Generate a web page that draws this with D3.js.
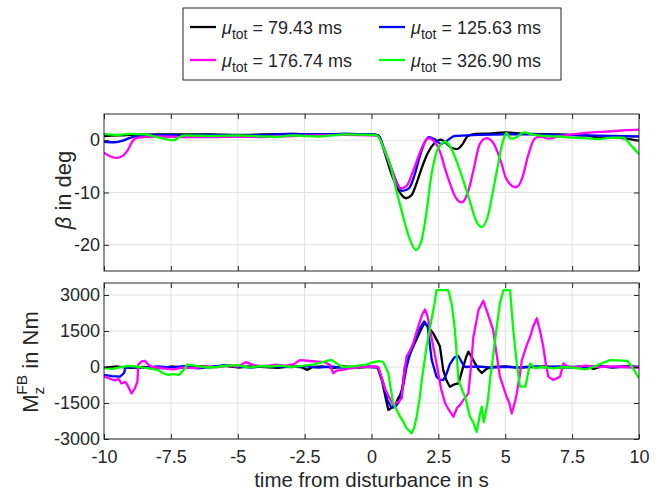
<!DOCTYPE html>
<html><head><meta charset="utf-8">
<script src="https://cdn.jsdelivr.net/npm/d3@7"></script>
<style>
body{margin:0;background:#fff}
svg{display:block}
text{font-family:"Liberation Sans",Arial,Helvetica,sans-serif;fill:#262626}
</style>
</head><body>
<svg id="c" width="662" height="497"></svg>
<script>
// ---------- data ----------
const seriesNames = ["79.43", "125.63", "176.74", "326.90"];
const seriesColors = ["#000000", "#0000ff", "#ff00ff", "#00ff00"];
const xTicks = [-10, -7.5, -5, -2.5, 0, 2.5, 5, 7.5, 10];
const xTickLabels = ["-10", "-7.5", "-5", "-2.5", "0", "2.5", "5", "7.5", "10"];
const betaTicks = [0, -10, -20];
const mTicks = [3000, 1500, 0, -1500, -3000];

// beta in deg: [time s, value]
const betaBlack = [[-10,0.8],[-9.5,0.9],[-9,1.0],[-8,1.1],[-7,1.1],[-6,1.1],[-5,1.0],[-4,1.1],[-3,1.2],[-2,1.1],[-1,1.2],[0,1.1],[0.25,0.9],[0.5,-2.5],[0.75,-6.5],[1.0,-9.5],[1.3,-11.1],[1.5,-10.5],[1.7,-8],[1.9,-5],[2.1,-2.5],[2.35,-0.6],[2.6,0.1],[2.8,-0.6],[3.0,-1.5],[3.2,-1.7],[3.4,-0.8],[3.6,0.8],[3.9,1.2],[4.5,1.3],[5,1.5],[5.5,1.3],[6,1.2],[7,1.1],[8,0.9],[8.5,0.5],[9,0.6],[9.5,0.3],[10,-0.1]];
const betaBlue = [[-10,-0.3],[-9.6,-0.4],[-9.3,-0.1],[-9,0.5],[-8.7,0.8],[-8,1.0],[-7,0.9],[-6,1.0],[-5,0.9],[-4,1.0],[-3,1.2],[-2,1.1],[-1,1.2],[0,1.1],[0.25,0.9],[0.5,-2],[0.75,-5.5],[1.0,-8.7],[1.15,-9.7],[1.4,-9.2],[1.6,-6.8],[1.8,-3.2],[2.0,-0.3],[2.15,0.6],[2.35,0.2],[2.6,-0.7],[2.8,-0.2],[3.1,0.8],[4,1.0],[5,1.1],[6,1.1],[7,1.0],[8,0.9],[9,0.8],[10,0.7]];
const betaMagenta = [[-10,-2.4],[-9.8,-3.0],[-9.55,-3.4],[-9.3,-3.0],[-9.1,-1.8],[-8.95,-0.3],[-8.8,0.4],[-8.5,0.6],[-8,0.7],[-7,0.6],[-6,0.6],[-5,0.7],[-4,0.6],[-3,0.8],[-2,0.9],[-1,1.0],[0,0.9],[0.25,0.7],[0.5,-2.3],[0.75,-5.5],[1.07,-9.2],[1.3,-8.8],[1.55,-6],[1.8,-2.5],[2.0,-0.3],[2.12,0.4],[2.3,0],[2.56,-2.2],[2.75,-5.5],[2.95,-8.5],[3.15,-11],[3.37,-11.9],[3.6,-10],[3.8,-6],[4.05,-0.7],[4.3,0.4],[4.55,-0.5],[4.8,-3.5],[5.05,-7.5],[5.4,-9],[5.65,-7],[5.85,-3],[6.1,0.3],[6.3,0.7],[6.6,0.3],[7,0.7],[7.5,1.1],[8,1.4],[8.5,1.6],[9,1.7],[9.5,1.9],[10,2.0]];
const betaGreen = [[-10,1.2],[-9.5,1.0],[-9,1.2],[-8.5,1.1],[-8,0.6],[-7.6,0.1],[-7.4,0.0],[-7.2,0.5],[-7,0.9],[-6,0.8],[-5,0.9],[-4,0.7],[-3.5,0.6],[-3,0.9],[-2.5,0.8],[-2,0.7],[-1.5,0.9],[-1,1.1],[0,1.0],[0.2,0.9],[0.45,-1.5],[0.7,-4.7],[0.9,-9],[1.13,-13.6],[1.4,-18.5],[1.66,-21],[1.85,-19.5],[2.06,-13.6],[2.2,-8],[2.31,-4.7],[2.45,-2],[2.6,-0.8],[2.75,-0.3],[2.95,-1.3],[3.18,-4],[3.45,-8],[3.68,-11.7],[3.9,-15.3],[4.12,-16.6],[4.35,-14.5],[4.55,-9.5],[4.7,-5.5],[4.85,-1.5],[4.95,0.4],[5.05,1.4],[5.2,0.3],[5.4,0.5],[5.7,1.5],[6,1.1],[6.5,0.8],[7,0.7],[7.5,0.5],[8,0.4],[8.5,0.2],[9,0.5],[9.4,0.5],[9.7,-1.0],[10,-2.7]];

// M_z^FB in Nm: [time s, value]
const mBlack = [[-10,-30],[-9.5,20],[-9,-40],[-8.5,0],[-8,-60],[-7.5,20],[-7,-30],[-6.5,40],[-6,0],[-5.5,50],[-5,-20],[-4.5,30],[-4,0],[-3.5,-40],[-3,30],[-2.6,-20],[-2.4,-120],[-2.2,0],[-1.8,20],[-1.4,-40],[-1,30],[-0.5,-20],[0,10],[0.22,0],[0.4,-600],[0.55,-1400],[0.63,-1790],[0.75,-1700],[0.9,-1550],[1.0,-1300],[1.07,-1170],[1.15,-900],[1.25,10],[1.35,300],[1.56,850],[1.7,1200],[1.85,1550],[1.97,1820],[2.1,1700],[2.31,1400],[2.45,1100],[2.56,850],[2.68,-120],[2.8,-550],[2.93,-820],[3.1,-720],[3.25,-680],[3.4,-100],[3.55,450],[3.62,640],[3.75,400],[3.87,150],[4.0,-100],[4.12,-250],[4.3,-80],[4.5,0],[5,20],[5.5,-30],[6,0],[6.5,30],[7,-20],[7.5,0],[8,30],[8.3,-80],[8.6,20],[9,-10],[9.5,20],[10,0]];
const mBlue = [[-10,-330],[-9.7,-380],[-9.4,-400],[-9.25,-250],[-9.2,-20],[-9,0],[-8.5,-40],[-8,30],[-7.5,-20],[-7,40],[-6.5,-60],[-6,0],[-5.5,80],[-5,30],[-4.5,-30],[-4,50],[-3.5,20],[-3,0],[-2.5,40],[-2,-30],[-1.5,20],[-1,-40],[-0.5,30],[0,0],[0.25,-20],[0.45,-700],[0.6,-1400],[0.75,-1700],[0.9,-1650],[1.05,-1400],[1.2,-700],[1.3,-50],[1.45,600],[1.6,1050],[1.8,1600],[1.97,1900],[2.1,1700],[2.25,300],[2.43,-400],[2.55,-530],[2.68,-540],[2.8,-300],[2.93,120],[3.1,400],[3.25,460],[3.4,150],[3.5,0],[4,20],[4.5,-30],[5,10],[5.5,-20],[6,30],[6.5,-10],[7,20],[7.5,-20],[8,0],[8.5,40],[9,-10],[9.5,10],[10,0]];
const mMagenta = [[-10,-400],[-9.8,-480],[-9.6,-560],[-9.45,-500],[-9.35,-680],[-9.2,-620],[-9.1,-800],[-8.97,-1100],[-8.85,-900],[-8.75,-600],[-8.72,100],[-8.6,230],[-8.47,260],[-8.35,100],[-8.2,0],[-7.8,-60],[-7.4,-100],[-7,-20],[-6.6,-50],[-6.2,30],[-5.8,-20],[-5.4,60],[-5,20],[-4.7,200],[-4.4,80],[-4,30],[-3.6,100],[-3.2,60],[-2.9,120],[-2.67,290],[-2.3,250],[-2.0,220],[-1.75,200],[-1.55,80],[-1.43,-260],[-1.3,-150],[-1.1,-120],[-0.8,-60],[-0.5,0],[0,20],[0.25,0],[0.5,-900],[0.81,-1580],[1.0,-1450],[1.13,-1300],[1.22,-300],[1.31,430],[1.45,700],[1.56,990],[1.75,1700],[1.9,2200],[2.0,2400],[2.1,2100],[2.19,1540],[2.3,900],[2.43,150],[2.6,-900],[2.75,-1510],[2.9,-1800],[3.06,-2070],[3.2,-1700],[3.31,-1580],[3.45,-1350],[3.62,-1100],[3.7,-200],[3.81,1260],[4.0,2370],[4.18,2760],[4.35,2200],[4.55,1540],[4.68,500],[4.8,-400],[5.05,-1240],[5.15,-1500],[5.24,-1930],[5.35,-1500],[5.43,-1100],[5.55,-300],[5.62,290],[5.8,900],[5.93,1260],[6.05,1700],[6.18,2030],[6.3,1500],[6.42,850],[6.52,100],[6.61,-400],[6.8,-540],[7.05,-400],[7.17,150],[7.3,40],[7.6,-20],[8,60],[8.5,0],[9,30],[9.5,0],[10,-20]];
const mGreen = [[-10,-50],[-9.7,-80],[-9.4,-20],[-9.1,50],[-8.8,20],[-8.4,-50],[-8,-120],[-7.8,-250],[-7.6,-330],[-7.4,-300],[-7.2,-330],[-7.0,-100],[-6.9,100],[-6.6,60],[-6.2,-20],[-5.8,0],[-5.4,60],[-5.0,80],[-4.6,-30],[-4.2,40],[-3.8,20],[-3.4,60],[-3.0,0],[-2.6,50],[-2.2,100],[-1.9,180],[-1.6,280],[-1.49,290],[-1.3,150],[-1.1,0],[-0.8,20],[-0.5,60],[-0.2,100],[0.07,200],[0.3,240],[0.44,200],[0.55,-50],[0.63,-260],[0.72,-900],[0.81,-1510],[0.95,-1800],[1.07,-2070],[1.2,-2300],[1.31,-2550],[1.5,-2760],[1.6,-2500],[1.69,-2070],[1.8,-1300],[1.88,-540],[2.06,850],[2.25,2030],[2.35,2600],[2.43,3200],[2.87,3200],[3.0,2600],[3.12,1540],[3.25,-540],[3.4,-1000],[3.5,-1240],[3.6,-1700],[3.68,-2070],[3.8,-2300],[3.93,-2700],[4.05,-2000],[4.12,-1650],[4.2,-2300],[4.24,-2070],[4.35,-1400],[4.43,-540],[4.55,500],[4.62,1130],[4.8,2650],[4.93,3200],[5.18,3200],[5.3,1540],[5.43,150],[5.55,-820],[5.75,-820],[5.93,150],[6.1,-50],[6.4,0],[6.8,-60],[7.2,0],[7.6,-40],[8.0,-100],[8.3,0],[8.6,150],[8.92,290],[9.2,280],[9.57,250],[9.8,-100],[10,-470]];

const betaSeries = [betaBlack, betaBlue, betaMagenta, betaGreen];
const mSeries = [mBlack, mBlue, mMagenta, mGreen];

// ---------- drawing ----------
const svg = d3.select("#c");
const L = 104, R = 639;
const x = d3.scaleLinear([-10, 10], [L, R]);
const yB = d3.scaleLinear([-25, 5], [271, 114]);
const yM = d3.scaleLinear([-3000, 3500], [439, 283]);
const axisColor = "#262626";
const tickFont = 18, labelFont = 20.5, yLabelFont = 22;

function panel(id, y, yTicks, series, showXLabels, curve) {
  const [y0, y1] = y.range(); // bottom, top
  const g = svg.append("g");
  g.append("clipPath").attr("id", id).append("rect")
    .attr("x", L).attr("y", y1).attr("width", R - L).attr("height", y0 - y1);
  // grid
  g.append("g").selectAll("line").data(xTicks.slice(1, -1)).join("line")
    .attr("x1", d => x(d)).attr("x2", d => x(d)).attr("y1", y1).attr("y2", y0)
    .attr("stroke", "#e0e0e0").attr("stroke-width", 1);
  g.append("g").selectAll("line").data(yTicks).join("line")
    .attr("x1", L).attr("x2", R).attr("y1", d => y(d)).attr("y2", d => y(d))
    .attr("stroke", "#e0e0e0").attr("stroke-width", 1);
  // lines
  const line = d3.line().x(d => x(d[0])).y(d => y(d[1])).curve(curve);
  g.append("g").attr("clip-path", `url(#${id})`).selectAll("path").data(series).join("path")
    .attr("d", line).attr("fill", "none")
    .attr("stroke", (d, i) => seriesColors[i]).attr("stroke-width", 2.3)
    .attr("stroke-linejoin", "round");
  // axes
  const ax = d3.axisBottom(x).tickValues(xTicks).tickSize(-5).tickPadding(11.5)
    .tickFormat((d, i) => showXLabels ? xTickLabels[i] : "");
  const gx = g.append("g").attr("transform", `translate(0,${y0})`).call(ax);
  const gxt = g.append("g").attr("transform", `translate(0,${y1})`)
    .call(d3.axisTop(x).tickValues(xTicks).tickSize(-5).tickFormat(""));
  const gy = g.append("g").attr("transform", `translate(${L},0)`)
    .call(d3.axisLeft(y).tickValues(yTicks).tickSize(-5).tickPadding(4).tickFormat(d => String(d)));
  const gyr = g.append("g").attr("transform", `translate(${R},0)`)
    .call(d3.axisRight(y).tickValues(yTicks).tickSize(-5).tickFormat(""));
  [gx, gxt, gy, gyr].forEach(a => {
    a.select(".domain").remove();
    a.selectAll("line").attr("stroke", axisColor);
    a.selectAll("text").attr("font-size", tickFont).attr("font-family", null).attr("fill", axisColor);
  });
  g.append("rect").attr("x", L).attr("y", y1).attr("width", R - L).attr("height", y0 - y1)
    .attr("fill", "none").attr("stroke", axisColor).attr("stroke-width", 1);
}

panel("clipB", yB, betaTicks, betaSeries, false, d3.curveMonotoneX);
panel("clipM", yM, mTicks, mSeries, true, d3.curveLinear);

// axis labels
svg.append("text").attr("x", (L + R) / 2).attr("y", 487).attr("text-anchor", "middle")
  .attr("font-size", labelFont).text("time from disturbance in s");

const bl = svg.append("text").attr("transform", "translate(71,190) rotate(-90)")
  .attr("text-anchor", "middle").attr("font-size", yLabelFont);
bl.append("tspan").attr("font-style", "italic").text("β");
bl.append("tspan").text(" in deg");

const ml = svg.append("text").attr("transform", "translate(38,362) rotate(-90)")
  .attr("text-anchor", "middle").attr("font-size", yLabelFont);
ml.append("tspan").text("M");
ml.append("tspan").attr("font-size", 15.5).attr("dy", 6).text("z");
ml.append("tspan").attr("font-size", 15.5).attr("dx", -8).attr("dy", -17).text("FB");
ml.append("tspan").attr("dy", 11).text(" in Nm");

// legend
const leg = svg.append("g");
leg.append("rect").attr("x", 183).attr("y", 8).attr("width", 378).attr("height", 72)
  .attr("fill", "#fff").attr("stroke", axisColor).attr("stroke-width", 1);
const legPos = [[190, 27], [379, 27], [190, 60], [379, 60]];
seriesNames.forEach((name, i) => {
  const [lx, ly] = legPos[i];
  leg.append("line").attr("x1", lx).attr("x2", lx + 26).attr("y1", ly).attr("y2", ly)
    .attr("stroke", seriesColors[i]).attr("stroke-width", 2.3);
  const t = leg.append("text").attr("x", lx + 32).attr("y", ly + 6.5).attr("font-size", 18);
  t.append("tspan").attr("font-style", "italic").text("μ");
  t.append("tspan").attr("font-size", 14).attr("dy", 5).text("tot");
  t.append("tspan").attr("dy", -5).text(" = " + name + " ms");
});
</script>
</body></html>
